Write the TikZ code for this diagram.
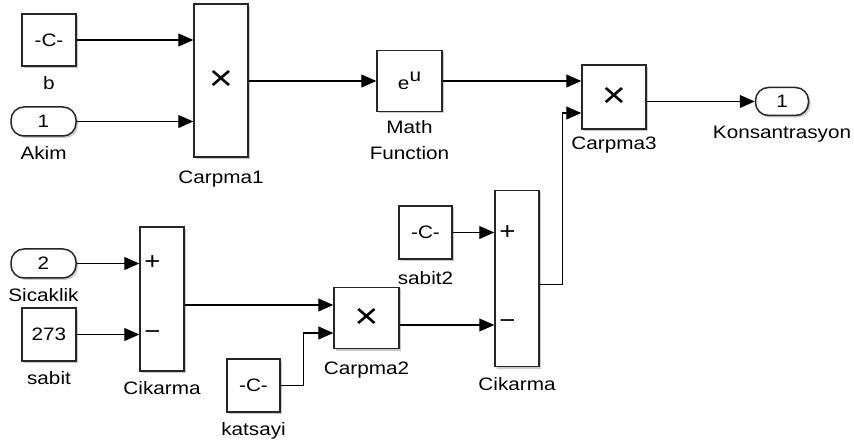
\documentclass[tikz,border=0pt]{standalone}
\usepackage{fontspec}
\setmainfont{Liberation Sans}[FakeStretch=1.15]
\usetikzlibrary{arrows.meta,shadows}

\begin{document}
\begin{tikzpicture}[x=1pt,y=-1pt,>={Triangle[length=15pt,width=13pt]},font=\fontsize{18}{26}\selectfont,
blk/.style={draw=black!85,line width=1.5pt,fill=white,inner sep=0pt,drop shadow={shadow xshift=2pt,shadow yshift=-2pt,opacity=0.3,fill=black!70}},
prt/.style={blk,rounded corners=13pt,minimum width=65pt,minimum height=29pt},
prod/.style={blk,font=\fontsize{36}{36}\selectfont},
lbl/.style={inner sep=0pt,label distance=10pt,align=center},
sgn/.style={anchor=west,inner sep=0pt,xshift=5pt,font=\fontsize{24}{24}\selectfont},
wire/.style={->,line width=1.1pt}]
\useasboundingbox (0,0) rectangle (854,446);
\node[blk,minimum width=54pt,minimum height=52pt,label={[lbl]below:b}] (b) at (49,40) {-C-};
\node[prt,label={[lbl]below:Akim}] (akim) at (43.5,121.5) {1};
\node[prod,minimum width=54pt,minimum height=153pt,label={[lbl,yshift=-3pt]below:Carpma1}] (c1) at (221,80.5) {×};
\node[blk,minimum width=65pt,minimum height=61pt,label={[lbl,yshift=2pt]below:Math\\Function}] (mf) at (409.5,81) {e\raisebox{8pt}{u}};
\node[prod,minimum width=64pt,minimum height=64pt,label={[lbl,yshift=3pt]below:Carpma3}] (c3) at (614,97) {×};
\node[prt,minimum width=53pt,minimum height=28pt,label={[lbl]below:Konsantrasyon}] (out) at (782,101.5) {1};
\node[prt,label={[lbl]below:Sicaklik}] (sic) at (43.5,263.5) {2};
\node[blk,minimum width=54pt,minimum height=53pt,label={[lbl]below:sabit}] (sabit) at (49,334.5) {273};
\node[blk,minimum width=44pt,minimum height=144pt,label={[lbl]below:Cikarma}] (k1) at (162,299) {};
\node[prod,minimum width=65pt,minimum height=61pt,label={[lbl,yshift=-2pt]below:Carpma2}] (c2) at (366.5,318) {×};
\node[blk,minimum width=53pt,minimum height=53pt,label={[lbl]below:katsayi}] (kat) at (253.5,385.5) {-C-};
\node[blk,minimum width=53pt,minimum height=53pt,label={[lbl,yshift=-2pt]below:sabit2}] (s2) at (425.5,232.5) {-C-};
\node[blk,minimum width=44pt,minimum height=176pt,label={[lbl]below:Cikarma}] (k2) at (517,278.5) {};
\node[sgn] (k1p) at ([yshift=36pt]k1.west) {+};
\node[sgn] (k1m) at ([yshift=-36pt]k1.west) {−};
\node[sgn] (k2p) at ([yshift=46pt]k2.west) {+};
\node[sgn] (k2m) at ([yshift=-46pt]k2.west) {−};
\draw[wire] (b.east) -- (b.east -| c1.west);
\draw[wire] (akim.east) -- (akim.east -| c1.west);
\draw[wire] (c1.east |- mf.west) -- (mf.west);
\draw[wire] (mf.east) -- (mf.east -| c3.west);
\draw[wire] (c3.east |- out.west) -- (out.west);
\draw[wire] (sic.east) -- (sic.east -| k1.west);
\draw[wire] (sabit.east) -- (sabit.east -| k1.west);
\draw[wire] ([yshift=-6pt]k1.east) -- ([yshift=-6pt]k1.east -| c2.west);
\draw[wire] (kat.east) -- ++(23,0) |- ([yshift=-15pt]c2.west);
\draw[wire] (s2.east) -- (s2.east -| k2.west);
\draw[wire] ([yshift=-7pt]c2.east) -- ([yshift=-7pt]c2.east -| k2.west);
\draw[wire] ([yshift=-6pt]k2.east) -- ++(23,0) |- ([yshift=-16pt]c3.west);
\end{tikzpicture}
\end{document}
